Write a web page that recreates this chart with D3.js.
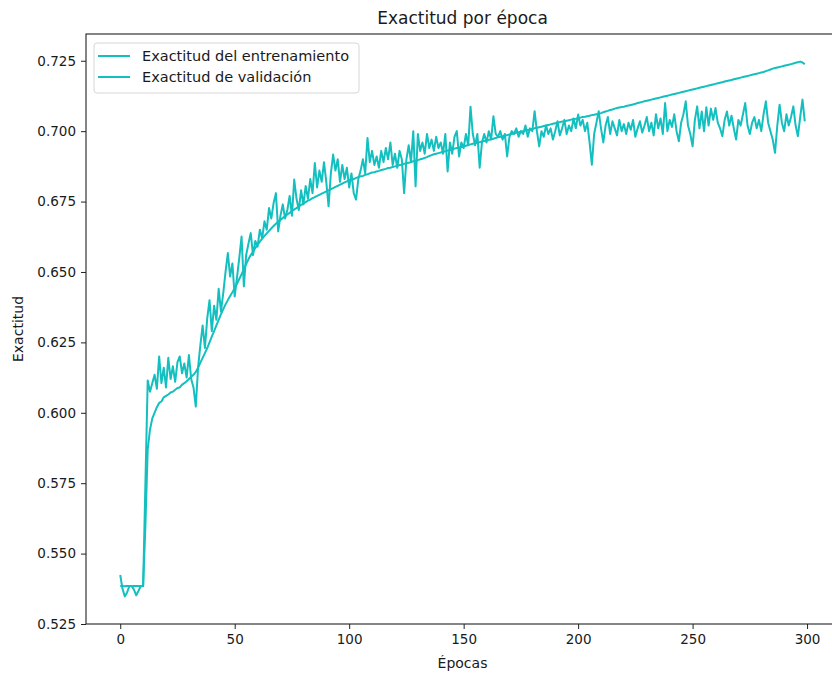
<!DOCTYPE html>
<html>
<head>
<meta charset="utf-8">
<script src="https://cdn.jsdelivr.net/npm/d3@7"></script>
<style>
  html, body { margin: 0; padding: 0; background: #ffffff; }
  svg { display: block; }
  text { font-family: "DejaVu Sans", sans-serif; fill: #1a1a1a; }
</style>
</head>
<body>
<svg id="chart" width="832" height="674"></svg>
<script>
// Accuracy per epoch: training (smooth) and validation (noisy), 300 epochs.
const titleText = "Exactitud por época";
const xLabel = "Épocas";
const yLabel = "Exactitud";
const seriesNames = ["Exactitud del entrenamiento", "Exactitud de validación"];
const xTicks = [0, 50, 100, 150, 200, 250, 300];
const yTicks = [0.525, 0.550, 0.575, 0.600, 0.625, 0.650, 0.675, 0.700, 0.725];

const trainAcc = [
  0.5385,0.5385,0.5384,0.5385,0.5385,0.5384,0.5385,0.5385,0.5385,0.5384,
  0.5385,0.5600,0.5870,0.5940,0.5980,0.6000,0.6020,0.6035,0.6040,0.6055,
  0.6060,0.6065,0.6072,0.6075,0.6082,0.6088,0.6090,0.6100,0.6105,0.6112,
  0.6120,0.6128,0.6135,0.6145,0.6160,0.6178,0.6195,0.6212,0.6230,0.6250,
  0.6270,0.6290,0.6310,0.6330,0.6350,0.6368,0.6385,0.6400,0.6415,0.6428,
  0.6442,0.6458,0.6475,0.6492,0.6510,0.6528,0.6545,0.6560,0.6572,0.6585,
  0.6597,0.6608,0.6618,0.6628,0.6637,0.6646,0.6655,0.6663,0.6671,0.6678,
  0.6685,0.6692,0.6698,0.6704,0.6710,0.6716,0.6722,0.6727,0.6733,0.6738,
  0.6743,0.6748,0.6753,0.6757,0.6762,0.6766,0.6770,0.6774,0.6778,0.6782,
  0.6786,0.6790,0.6794,0.6798,0.6802,0.6806,0.6810,0.6814,0.6818,0.6822,
  0.6826,0.6828,0.6830,0.6834,0.6837,0.6840,0.6841,0.6845,0.6847,0.6850,
  0.6853,0.6854,0.6857,0.6859,0.6862,0.6864,0.6866,0.6869,0.6870,0.6873,
  0.6875,0.6877,0.6880,0.6881,0.6884,0.6886,0.6888,0.6890,0.6893,0.6895,
  0.6897,0.6900,0.6902,0.6905,0.6908,0.6912,0.6915,0.6918,0.6920,0.6922,
  0.6924,0.6927,0.6929,0.6931,0.6933,0.6935,0.6938,0.6940,0.6942,0.6944,
  0.6946,0.6948,0.6951,0.6953,0.6955,0.6957,0.6959,0.6961,0.6963,0.6965,
  0.6967,0.6969,0.6971,0.6973,0.6976,0.6978,0.6980,0.6982,0.6984,0.6986,
  0.6988,0.6990,0.6992,0.6994,0.6996,0.6998,0.7000,0.7002,0.7004,0.7006,
  0.7008,0.7010,0.7012,0.7014,0.7016,0.7018,0.7020,0.7022,0.7024,0.7026,
  0.7028,0.7030,0.7032,0.7034,0.7035,0.7037,0.7039,0.7041,0.7043,0.7044,
  0.7046,0.7048,0.7050,0.7051,0.7053,0.7055,0.7057,0.7058,0.7060,0.7062,
  0.7064,0.7067,0.7070,0.7072,0.7075,0.7077,0.7080,0.7082,0.7084,0.7086,
  0.7087,0.7089,0.7091,0.7093,0.7095,0.7097,0.7100,0.7102,0.7104,0.7106,
  0.7108,0.7110,0.7112,0.7114,0.7116,0.7118,0.7120,0.7122,0.7124,0.7126,
  0.7128,0.7130,0.7132,0.7134,0.7136,0.7138,0.7140,0.7142,0.7144,0.7146,
  0.7148,0.7150,0.7152,0.7154,0.7156,0.7158,0.7160,0.7162,0.7164,0.7166,
  0.7168,0.7170,0.7172,0.7174,0.7176,0.7178,0.7180,0.7182,0.7184,0.7186,
  0.7188,0.7190,0.7192,0.7194,0.7196,0.7198,0.7200,0.7202,0.7204,0.7206,
  0.7208,0.7210,0.7213,0.7216,0.7219,0.7222,0.7224,0.7226,0.7228,0.7230,
  0.7232,0.7234,0.7236,0.7238,0.7240,0.7243,0.7245,0.7247,0.7244,0.7238
];

const valAcc = [
  0.5424,0.5375,0.5348,0.5362,0.5385,0.5385,0.5372,0.5352,0.5368,0.5385,
  0.5385,0.5750,0.6115,0.6075,0.6105,0.6135,0.6085,0.6200,0.6105,0.6160,
  0.6090,0.6195,0.6120,0.6165,0.6110,0.6180,0.6200,0.6140,0.6175,0.6125,
  0.6205,0.6120,0.6090,0.6022,0.6160,0.6240,0.6310,0.6230,0.6335,0.6400,
  0.6290,0.6380,0.6330,0.6440,0.6360,0.6425,0.6500,0.6567,0.6484,0.6530,
  0.6413,0.6480,0.6550,0.6626,0.6449,0.6560,0.6600,0.6638,0.6560,0.6610,
  0.6590,0.6650,0.6620,0.6680,0.6650,0.6727,0.6690,0.6745,0.6780,0.6644,
  0.6700,0.6740,0.6690,0.6720,0.6770,0.6700,0.6828,0.6760,0.6720,0.6790,
  0.6740,0.6805,0.6760,0.6830,0.6780,0.6887,0.6800,0.6860,0.6820,0.6890,
  0.6820,0.6733,0.6850,0.6917,0.6860,0.6900,0.6820,0.6880,0.6830,0.6870,
  0.6800,0.6850,0.6780,0.6757,0.6830,0.6860,0.6900,0.6850,0.6976,0.6890,
  0.6930,0.6880,0.6910,0.6870,0.6930,0.6890,0.6940,0.6900,0.6960,0.6880,
  0.6920,0.6870,0.6930,0.6900,0.6780,0.6900,0.6950,0.6890,0.7000,0.6804,
  0.6990,0.6930,0.6960,0.6920,0.6990,0.6940,0.6970,0.6930,0.6980,0.6940,
  0.6960,0.6920,0.6990,0.6857,0.6960,0.6920,0.6980,0.7000,0.6910,0.6960,
  0.6940,0.6990,0.6950,0.7087,0.6990,0.6950,0.6990,0.6870,0.6960,0.6990,
  0.6960,0.7000,0.6970,0.7053,0.6990,0.6980,0.7000,0.6970,0.6990,0.6910,
  0.6980,0.7000,0.6990,0.7010,0.6980,0.7000,0.6990,0.7020,0.6980,0.7010,
  0.7000,0.7071,0.7000,0.6946,0.7000,0.6980,0.7020,0.6990,0.7010,0.6970,
  0.7000,0.7035,0.6985,0.7010,0.7040,0.6990,0.7020,0.7000,0.7045,0.7010,
  0.7059,0.7020,0.7040,0.7000,0.7030,0.6960,0.6881,0.6990,0.7030,0.7071,
  0.7010,0.6960,0.7020,0.7050,0.6990,0.7035,0.7010,0.6985,0.7040,0.7000,
  0.7025,0.6990,0.7030,0.7005,0.7040,0.6980,0.7010,0.7035,0.6995,0.7020,
  0.7050,0.7000,0.7030,0.6985,0.7060,0.7010,0.7045,0.6990,0.7100,0.7000,
  0.7040,0.7015,0.7060,0.7000,0.6964,0.7030,0.7060,0.7106,0.7020,0.6990,
  0.6946,0.7040,0.7088,0.7010,0.7070,0.7000,0.7085,0.7020,0.7080,0.7040,
  0.7082,0.7030,0.7010,0.6982,0.7040,0.7070,0.7020,0.7055,0.7010,0.6970,
  0.7040,0.7020,0.7060,0.7100,0.7020,0.6990,0.7030,0.7050,0.7010,0.7040,
  0.7000,0.7060,0.7106,0.7030,0.7000,0.6970,0.6923,0.7020,0.7094,0.7030,
  0.7000,0.7060,0.7020,0.7050,0.7088,0.7020,0.6982,0.7050,0.7112,0.7035
];

const lineColor = "#14bfbf";

const svg = d3.select("#chart");

const plot = { left: 86, top: 34, right: 839, bottom: 624 };

const x = d3.scaleLinear().domain([-14.95, 313.95]).range([plot.left, plot.right]);
const y = d3.scaleLinear().domain([0.525, 0.7345]).range([plot.bottom, plot.top]);

// series lines
const line = d3.line().x((d, i) => x(i)).y(d => y(d));
[trainAcc, valAcc].forEach(series => {
  svg.append("path")
    .datum(series)
    .attr("fill", "none")
    .attr("stroke", lineColor)
    .attr("stroke-width", 2)
    .attr("stroke-linejoin", "round")
    .attr("d", line);
});

// axes
const xAxis = svg.append("g")
  .attr("transform", `translate(0,${plot.bottom})`)
  .call(d3.axisBottom(x).tickValues(xTicks).tickFormat(d3.format("d")).tickSizeOuter(0).tickSize(5).tickPadding(5));
const yAxis = svg.append("g")
  .attr("transform", `translate(${plot.left},0)`)
  .call(d3.axisLeft(y).tickValues(yTicks).tickFormat(d3.format(".3f")).tickSizeOuter(0).tickSize(5).tickPadding(5));

[xAxis, yAxis].forEach(g => {
  g.select(".domain").remove();
  g.selectAll(".tick line").attr("stroke", "#222").attr("stroke-width", 1);
  g.selectAll(".tick text").style("font-family", "DejaVu Sans").style("font-size", "13.5px").attr("fill", "#1a1a1a");
});

// frame (spines)
svg.append("rect")
  .attr("x", plot.left).attr("y", plot.top)
  .attr("width", plot.right - plot.left).attr("height", plot.bottom - plot.top)
  .attr("fill", "none").attr("stroke", "#222").attr("stroke-width", 1.1);

// title and axis labels
svg.append("text")
  .attr("x", (plot.left + plot.right) / 2).attr("y", 24)
  .attr("text-anchor", "middle").style("font-size", "17px")
  .text(titleText);

svg.append("text")
  .attr("x", (plot.left + plot.right) / 2).attr("y", 668)
  .attr("text-anchor", "middle").style("font-size", "14px")
  .text(xLabel);

svg.append("text")
  .attr("transform", `translate(23,${(plot.top + plot.bottom) / 2}) rotate(-90)`)
  .attr("text-anchor", "middle").style("font-size", "14px")
  .text(yLabel);

// legend
const legend = svg.append("g");
legend.append("rect")
  .attr("x", 94).attr("y", 43).attr("width", 265).attr("height", 50).attr("rx", 3)
  .attr("fill", "#ffffff").attr("fill-opacity", 0.8)
  .attr("stroke", "#d6d6d6").attr("stroke-width", 1);
seriesNames.forEach((name, i) => {
  const cy = 56 + i * 21;
  legend.append("line")
    .attr("x1", 98).attr("x2", 130).attr("y1", cy).attr("y2", cy)
    .attr("stroke", lineColor).attr("stroke-width", 2);
  legend.append("text")
    .attr("x", 142).attr("y", cy + 5)
    .style("font-size", "14.5px")
    .text(name);
});
</script>
</body>
</html>
